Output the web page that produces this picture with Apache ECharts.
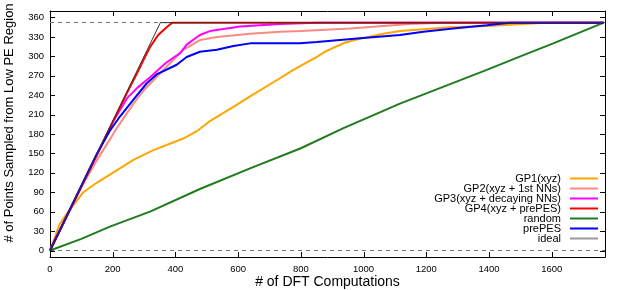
<!DOCTYPE html>
<html><head><meta charset="utf-8">
<script src="https://cdn.jsdelivr.net/npm/echarts@6/dist/echarts.min.js"></script>
<style>html,body{margin:0;padding:0;background:#fff}#c{width:623px;height:290px}</style>
</head><body><div id="c"></div>
<script>
const xTicks = [0,200,400,600,800,1000,1200,1400,1600];
const yTicks = [0,30,60,90,120,150,180,210,240,270,300,330,360];
const names = ['GP1(xyz)','GP2(xyz + 1st NNs)','GP3(xyz + decaying NNs)','GP4(xyz + prePES)','random','prePES','ideal'];
const gp1 = [[0,0],[30,40],[58,60],[106,90],[150,105],[200,120],[266,140],[330,155],[425,173],[470,185],[510,200],[585,222],[638,238],[723,263],[776,279],[851,299],[880,308],[940,321],[978,326],[1063,335],[1116,339],[1276,345],[1393,347],[1552,351],[1585,352],[1766,352]];
const gp2 = [[0,0],[100,98],[150,140],[213,189],[266,227],[300,248],[340,268],[372,284],[425,310],[478,325],[532,330],[638,335],[734,338],[800,339],[957,343],[1148,350],[1250,352],[1766,352]];
const gp3 = [[0,0],[150,148],[200,198],[245,235],[280,252],[320,268],[370,290],[415,305],[436,318],[478,333],[510,339],[606,346],[734,350],[850,352],[1766,352]];
const gp4 = [[0,0],[250,248],[280,276],[300,296],[320,315],[345,333],[372,345],[390,352],[1766,352]];
const random = [[0,0],[100,18],[191,37],[319,60],[478,95],[638,127],[800,158],[936,189],[1116,227],[1276,257],[1393,279],[1500,300],[1605,320],[1766,352]];
const prePES = [[0,0],[150,150],[191,185],[223,207],[266,233],[308,258],[340,272],[404,287],[436,299],[478,307],[532,310],[585,316],[638,320],[797,320],[851,322],[989,328],[1116,333],[1191,338],[1286,343],[1393,348],[1467,352],[1766,352]];
const ideal = [[0,0],[352,352],[1766,352]];
const refLines = [0,352];

const colors = ['#FFA500','#F88A80','#FF00FF','#FF0000','#1E7B1E','#0000FF','#999999'];
const datas = [gp1,gp2,gp3,gp4,random,prePES,ideal];
const font = 'Liberation Sans, Arial, sans-serif';
const X_MIN = 0, X_MAX = 1770, Y_MIN = -10, Y_MAX = 370, TICK = 5;

const series = datas.map((d,i)=>({
  name: names[i], type:'line', data:d, showSymbol:false, smooth:false,
  itemStyle:{color:colors[i]},
  lineStyle:{color: i===6 ? '#333333' : colors[i], width: i===6 ? 1 : 2},
  z: 3+i
}));
series.unshift({
  type:'line', data:[], silent:true, z:2,
  markLine:{silent:true, symbol:'none', label:{show:false},
    lineStyle:{color:'#777777', type:[4,4], width:1},
    data: refLines.map(v=>({yAxis:v}))}
});

const fmt = v => String(v);
const titleGraphic = {id:'ytitle', type:'text', x:9, y:123, rotation:Math.PI/2,
    style:{text:'# of Points Sampled from Low PE Region', font:'13px '+font, fill:'#000', align:'center', verticalAlign:'middle'}};
const chart = echarts.init(document.getElementById('c'), null, {renderer:'canvas'});
chart.setOption({
  animation:false,
  grid:{left:50, right:18, top:11, bottom:33, containLabel:false, outerBoundsMode:'none'},
  xAxis:[{type:'value', min:X_MIN, max:X_MAX, position:'bottom',
    name:'# of DFT Computations', nameLocation:'middle', nameGap:18, nameMoveOverlap:false,
    nameTextStyle:{fontFamily:font, fontSize:14, color:'#000'},
    axisLine:{show:true, onZero:false, lineStyle:{color:'#000'}}, splitLine:{show:false},
    axisTick:{show:false},
    axisLabel:{customValues:xTicks, formatter:fmt, fontFamily:font, fontSize:9.5, color:'#000', margin:7}},
   {type:'value', min:X_MIN, max:X_MAX, position:'top',
    axisLine:{show:true, onZero:false, lineStyle:{color:'#000'}}, splitLine:{show:false},
    axisTick:{show:false}, axisLabel:{show:false}}],
  yAxis:[{type:'value', min:Y_MIN, max:Y_MAX, position:'left',
    axisLine:{show:true, onZero:false, lineStyle:{color:'#000'}}, splitLine:{show:false},
    axisTick:{show:false},
    axisLabel:{customValues:yTicks, formatter:fmt, fontFamily:font, fontSize:9.5, color:'#000', margin:6}},
   {type:'value', min:Y_MIN, max:Y_MAX, position:'right',
    axisLine:{show:true, onZero:false, lineStyle:{color:'#000'}}, splitLine:{show:false},
    axisTick:{show:false}, axisLabel:{show:false}}],
  legend:{orient:'vertical', right:25, top:173, padding:0, align:'right', icon:'rect',
    itemWidth:28, itemHeight:2, itemGap:-1, selectedMode:false,
    data:names,
    textStyle:{fontFamily:font, fontSize:11, color:'#000', lineHeight:10, height:10, padding:[0,4,0,0]}},
  graphic:[titleGraphic],
  series: series
});

// Inward tick marks on all four sides, positioned through the axes' own scales
const ticks = [];
const yb = chart.convertToPixel({yAxisIndex:0}, Y_MIN);
const yt = chart.convertToPixel({yAxisIndex:0}, Y_MAX);
const xl = chart.convertToPixel({xAxisIndex:0}, X_MIN);
const xr = chart.convertToPixel({xAxisIndex:0}, X_MAX);
const snap = p => Math.round(p) + 0.5;
xTicks.forEach(v => {
  const px = snap(chart.convertToPixel({xAxisIndex:0}, v));
  ticks.push({type:'line', silent:true, z:10, shape:{x1:px, y1:yb, x2:px, y2:yb-TICK}, style:{stroke:'#000', lineWidth:1}});
  ticks.push({type:'line', silent:true, z:10, shape:{x1:px, y1:yt, x2:px, y2:yt+TICK}, style:{stroke:'#000', lineWidth:1}});
});
yTicks.forEach(v => {
  const py = snap(chart.convertToPixel({yAxisIndex:0}, v));
  ticks.push({type:'line', silent:true, z:10, shape:{x1:xl, y1:py, x2:xl+TICK, y2:py}, style:{stroke:'#000', lineWidth:1}});
  ticks.push({type:'line', silent:true, z:10, shape:{x1:xr, y1:py, x2:xr-TICK, y2:py}, style:{stroke:'#000', lineWidth:1}});
});
chart.setOption({graphic:[titleGraphic].concat(ticks)});
</script></body></html>
